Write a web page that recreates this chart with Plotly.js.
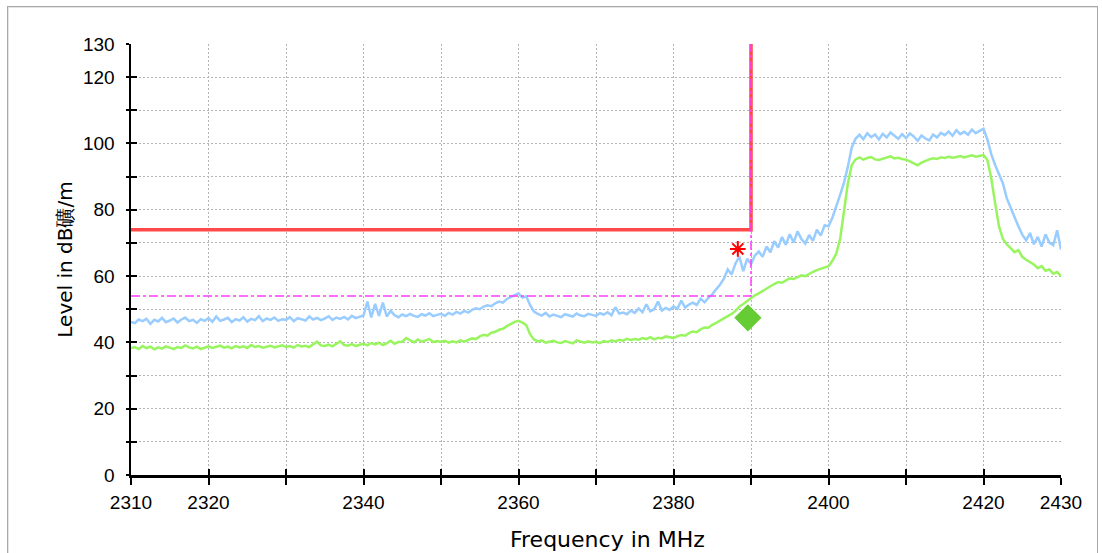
<!DOCTYPE html>
<html>
<head>
<meta charset="utf-8">
<script src="https://cdn.plot.ly/plotly-3.0.1.min.js"></script>
<style>
  html, body { margin: 0; padding: 0; background: #fff; overflow: hidden; }
  #wrap { position: relative; width: 1102px; height: 553px; }
  #frame { position: absolute; left: 7px; top: 6px; width: 1089px; height: 560px;
           border: 1px solid #a8a8a8; box-shadow: inset 1px 1px 0 #e4e4e4; pointer-events: none; }
  #chart { position: absolute; left: 0; top: 0; width: 1102px; height: 553px; }
</style>
</head>
<body>
<div id="wrap">
  <div id="chart"></div>
  <div id="frame"></div>
</div>
<script>
// ---- sampling grid (MHz) ----
const freqStart = 2310;
const freqStep = 0.5;

// ---- peak trace (light blue), dBµV/m, one value per 0.5 MHz from 2310 to 2430 ----
const peakLevel = [
  46.2,45.8,46.9,46.4,47.1,45.6,46.8,46.3,47.4,46.1, 46.6,47.2,46.0,46.9,47.5,46.4,46.8,45.9,47.0,46.5,
  47.3,46.2,47.8,46.5,46.9,47.4,46.1,47.0,46.6,47.6, 46.3,47.1,46.7,47.9,46.4,47.2,46.8,47.5,46.5,47.0,
  46.8,47.6,46.4,47.3,47.0,46.6,47.8,46.9,47.4,46.7, 47.2,47.9,46.8,47.5,47.1,47.7,46.9,48.0,47.3,47.6,
  48.1,52.3,47.5,51.6,48.0,52.0,47.8,49.5,48.2,47.6, 48.4,47.9,48.6,48.0,47.7,48.5,48.1,48.8,47.9,48.3,
  48.6,48.0,48.9,48.4,49.2,48.7,49.5,49.0,49.8,50.3, 50.0,50.8,51.2,50.9,51.8,52.3,52.0,53.1,53.6,54.2,
  54.8,53.5,53.9,51.2,49.3,48.6,48.1,48.9,47.8,48.4, 48.0,47.6,48.5,48.2,47.8,48.7,48.1,47.9,48.6,48.3,
  48.0,48.8,48.4,49.1,48.2,50.6,48.7,49.0,48.5,49.6, 48.9,50.2,49.1,51.5,49.4,50.0,52.3,49.6,50.4,49.8,
  50.9,50.1,52.6,50.5,51.4,52.0,51.3,53.2,52.1,53.4, 54.5,56.0,57.4,59.2,62.0,60.5,63.8,65.9,61.5,65.2,
  63.6,66.2,67.4,65.8,68.9,67.2,70.5,68.6,71.8,69.4, 72.6,70.1,73.5,71.2,69.8,72.4,70.6,74.0,72.2,75.3,
  75.0,77.6,80.8,84.5,88.2,93.0,98.8,101.5,102.6,101.3, 103.1,101.9,102.7,101.2,102.9,101.8,103.3,102.2,101.4,102.8,
  101.6,103.0,102.1,100.8,102.4,101.5,100.9,102.7,101.8,103.2, 102.5,103.6,102.3,104.0,102.8,103.5,102.6,104.2,103.1,103.8,
  104.4,101.2,96.8,93.5,91.0,88.0,83.5,80.4,77.8,75.0, 72.5,70.8,73.0,69.6,71.8,68.9,72.6,70.1,69.3,73.8,
  68.0
];

// ---- average trace (light green) ----
const avgLevel = [
  38.2,38.6,38.0,38.9,38.3,38.7,37.9,38.5,38.1,38.8, 38.4,38.0,38.6,38.3,39.1,38.5,38.2,38.7,38.0,38.4,
  38.8,38.3,38.6,39.0,38.4,38.7,38.2,38.9,38.5,38.8, 38.3,39.2,38.6,38.9,38.4,38.7,39.0,38.5,38.8,39.1,
  38.6,38.9,38.4,39.2,38.8,39.0,38.6,39.4,40.2,39.1, 38.9,39.3,38.8,39.6,40.3,39.2,39.0,39.5,38.9,39.3,
  39.6,39.1,39.8,39.4,39.9,39.2,39.7,40.5,39.6,40.1, 40.2,41.3,40.6,40.0,40.9,40.2,40.6,41.0,40.1,40.4,
  40.1,40.5,39.9,40.3,40.0,40.6,40.2,40.8,41.2,41.0, 41.8,42.3,42.0,42.9,43.2,43.8,44.1,44.9,45.6,46.2,
  46.5,46.0,45.2,42.4,40.9,40.3,40.6,39.9,40.2,40.5, 40.0,39.8,40.4,40.1,39.7,40.6,40.2,39.9,40.3,40.0,
  40.2,39.8,40.4,40.1,40.6,40.3,40.8,40.5,41.1,40.7, 41.0,40.8,41.3,41.0,41.6,40.9,41.4,41.2,41.8,41.5,
  41.3,41.9,42.2,42.0,42.8,43.3,43.1,43.9,44.5,44.4, 45.3,45.9,46.6,47.1,48.0,48.6,49.5,50.8,51.6,52.5,
  53.4,54.2,54.8,55.5,56.4,56.9,57.6,58.2,58.0,58.7, 59.3,59.1,59.6,60.2,60.0,60.7,61.3,61.8,62.2,62.6,
  63.0,64.6,66.8,71.2,80.0,88.0,93.5,95.2,95.8,95.1, 95.6,95.9,95.2,95.0,95.4,95.8,96.1,95.5,95.7,95.3,
  95.1,94.6,94.0,93.4,94.2,94.8,95.2,95.5,95.3,95.8, 95.6,96.0,95.7,95.9,96.2,95.8,96.1,96.4,96.0,96.3,
  96.5,95.0,89.5,82.0,75.0,71.2,69.6,68.4,67.2,67.8, 65.8,64.9,64.2,63.5,62.4,63.0,61.6,62.0,60.7,61.2,
  60.0
];

// ---- limit lines ----
const limitFreq = [2310, 2390, 2390];
const peakLimit = [74, 74, 130];
const avgLimit = [54, 54, 130];

// ---- markers ----
const peakMarkerFreq = [2388.3];
const peakMarkerLevel = [68.2];
const avgMarkerFreq = [2389.6];
const avgMarkerLevel = [47.4];

// ---- axis ticks / titles ----
const xTickVals = [2310,2320,2330,2340,2350,2360,2370,2380,2390,2400,2410,2420,2430];
const xTickText = ['2310','2320','','2340','','2360','','2380','','2400','','2420','2430'];
const yTickVals = [0,10,20,30,40,50,60,70,80,90,100,110,120,130];
const yTickText = ['0','','20','','40','','60','','80','','100','','120','130'];
const xTitle = 'Frequency in MHz';
const yTitle = 'Level in dB礦/m';

const freq = peakLevel.map((_, i) => freqStart + i * freqStep);

const traces = [
  { x: freq, y: avgLevel, type: 'scatter', mode: 'lines',
    line: { color: 'rgb(153,245,95)', width: 2.5 }, hoverinfo: 'skip' },
  { x: freq, y: peakLevel, type: 'scatter', mode: 'lines',
    line: { color: 'rgb(153,204,255)', width: 2.5 }, hoverinfo: 'skip' },
  { x: limitFreq, y: peakLimit, type: 'scatter', mode: 'lines',
    line: { color: 'rgb(255,72,72)', width: 3.5 }, hoverinfo: 'skip' },
  { x: limitFreq, y: avgLimit, type: 'scatter', mode: 'lines',
    line: { color: 'rgb(255,60,255)', width: 1.5, dash: 'dashdot' }, hoverinfo: 'skip' },
  { x: peakMarkerFreq, y: peakMarkerLevel, type: 'scatter', mode: 'markers',
    marker: { symbol: 'asterisk-open', size: 13, color: 'rgb(255,0,0)', line: { color: 'rgb(255,0,0)', width: 2 } }, hoverinfo: 'skip' },
  { x: avgMarkerFreq, y: avgMarkerLevel, type: 'scatter', mode: 'markers',
    marker: { symbol: 'diamond', size: 21, color: 'rgb(102,204,51)' }, hoverinfo: 'skip' },
  // invisible trace so the overlay axes (inner tick halves) are drawn
  { x: limitFreq, y: avgLimit, xaxis: 'x2', yaxis: 'y2', type: 'scatter', mode: 'lines',
    line: { width: 0 }, opacity: 0, hoverinfo: 'skip' }
];

const tickFont = { family: 'Liberation Sans, Arial, sans-serif', size: 19, color: '#000' };
const titleFont = { family: 'DejaVu Sans, sans-serif', size: 20, color: '#000' };

const layout = {
  width: 1102, height: 553,
  margin: { l: 131, r: 41, t: 44, b: 78 },
  paper_bgcolor: 'rgba(0,0,0,0)', plot_bgcolor: '#fff',
  showlegend: false,
  xaxis: {
    range: [2310, 2430], tickmode: 'array', tickvals: xTickVals, ticktext: xTickText,
    ticks: 'outside', ticklen: 7, tickwidth: 2, tickcolor: '#000',
    showline: true, linecolor: '#000', linewidth: 2.5,
    showgrid: true, gridcolor: '#b4b4b4', gridwidth: 1, griddash: '2px,2px',
    zeroline: false, tickfont: tickFont, ticklabelstandoff: 2
  },
  yaxis: {
    range: [0, 130], tickmode: 'array', tickvals: yTickVals, ticktext: yTickText,
    ticks: 'outside', ticklen: 3, tickwidth: 2, tickcolor: '#000',
    showline: true, linecolor: '#000', linewidth: 2.5,
    showgrid: true, gridcolor: '#b4b4b4', gridwidth: 1, griddash: '2px,2px',
    zeroline: false, tickfont: tickFont, ticklabelstandoff: 7,
    title: { text: yTitle, font: titleFont, standoff: 5 }
  },
  xaxis2: {
    overlaying: 'x', anchor: 'y', side: 'bottom', range: [2310, 2430],
    tickmode: 'array', tickvals: xTickVals, ticktext: xTickText, ticks: 'inside', ticklen: 6, tickwidth: 2,
    tickcolor: '#000', showticklabels: false, showgrid: false, zeroline: false, showline: false
  },
  yaxis2: {
    overlaying: 'y', anchor: 'x', side: 'left', range: [0, 130],
    tickmode: 'array', tickvals: yTickVals, ticktext: yTickText, ticks: 'inside', ticklen: 6, tickwidth: 2,
    tickcolor: '#000', showticklabels: false, showgrid: false, zeroline: false, showline: false
  },
  annotations: [
    { text: xTitle, xref: 'paper', yref: 'paper', x: 0.512, y: 0, xanchor: 'center', yanchor: 'top',
      yshift: -50, showarrow: false, font: Object.assign({}, titleFont, { size: 22 }) }
  ]
};

Plotly.newPlot('chart', traces, layout, { staticPlot: true, displayModeBar: false });
</script>
</body>
</html>
